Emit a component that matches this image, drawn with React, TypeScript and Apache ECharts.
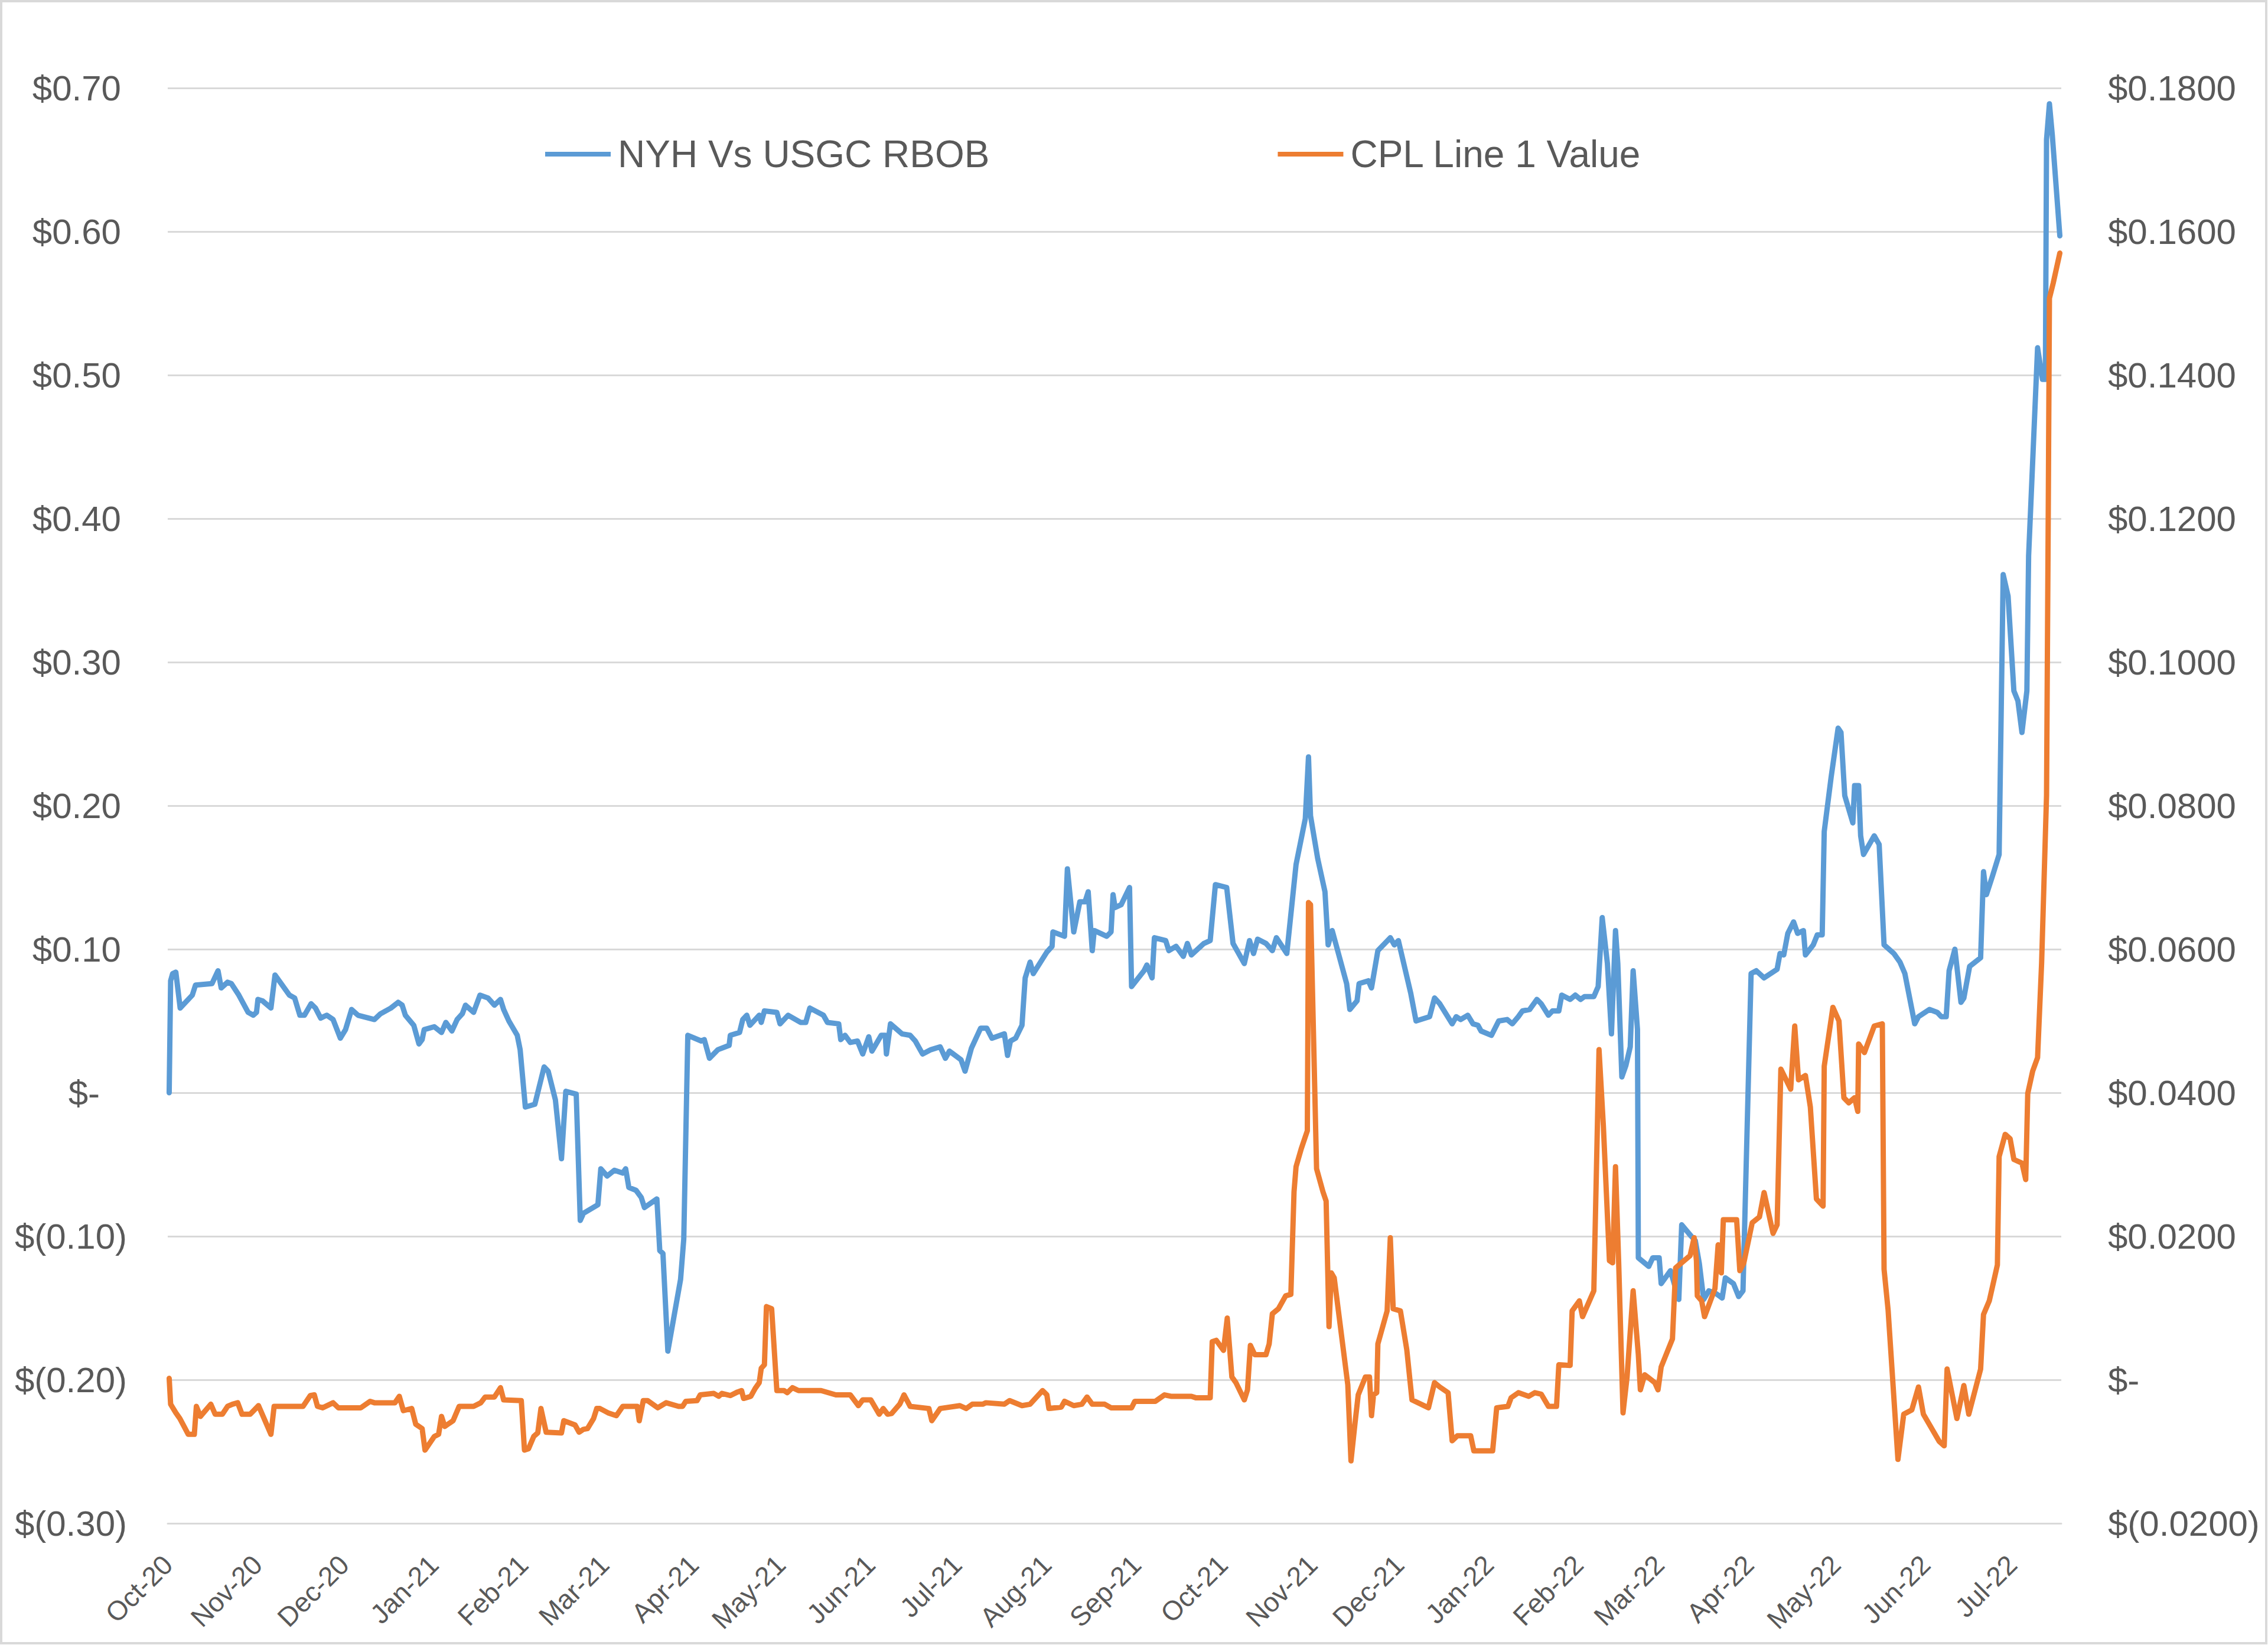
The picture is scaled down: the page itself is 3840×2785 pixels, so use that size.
import React, { useEffect, useRef } from "react";
import * as echarts from "echarts";

// Day offsets are counted from 1 Oct 2020 (the first date on the axis).
const AXIS_START = Date.UTC(2020, 9, 1);
const AXIS_END_DAY = 655;

const MONTH_LABELS = [
  "Oct-20", "Nov-20", "Dec-20", "Jan-21", "Feb-21", "Mar-21", "Apr-21", "May-21",
  "Jun-21", "Jul-21", "Aug-21", "Sep-21", "Oct-21", "Nov-21", "Dec-21", "Jan-22",
  "Feb-22", "Mar-22", "Apr-22", "May-22", "Jun-22", "Jul-22",
];

const SERIES_NAMES = ["NYH Vs USGC RBOB", "CPL Line 1 Value"];

// NYH Vs USGC RBOB spread ($/gal), [day offset, value]
const NYH_VS_USGC: [number, number][] = [
  [0.5,0.000],[1.0,0.078],[1.7,0.083],[2.8,0.084],[4.3,0.059],[8.5,0.068],[9.6,0.075],[15.3,0.076],[17.4,0.085],[18.5,0.073],
  [20.7,0.077],[22.0,0.076],[24.6,0.068],[27.8,0.056],[29.6,0.054],[30.7,0.056],[31.2,0.065],[32.8,0.064],[35.7,0.059],[37.1,0.082],
  [42.1,0.068],[43.9,0.066],[45.7,0.054],[47.3,0.054],[49.6,0.062],[51.1,0.059],[52.9,0.052],[55.0,0.054],[57.2,0.051],[59.7,0.038],
  [61.5,0.044],[63.6,0.058],[65.8,0.054],[71.5,0.051],[73.6,0.055],[77.2,0.059],[79.7,0.063],[81.1,0.061],[82.2,0.054],[85.1,0.047],
  [86.9,0.034],[88.0,0.037],[88.7,0.044],[92.2,0.046],[94.7,0.042],[96.2,0.049],[98.3,0.043],[100.1,0.051],[101.9,0.055],[103.0,0.061],
  [105.8,0.056],[108.0,0.068],[110.8,0.066],[113.0,0.061],[115.1,0.065],[116.2,0.058],[118.0,0.050],[120.9,0.040],[121.9,0.030],[123.7,-0.010],
  [127.0,-0.008],[130.2,0.018],[131.6,0.015],[134.1,-0.005],[136.2,-0.046],[137.7,0.001],[141.3,-0.001],[142.7,-0.089],[143.8,-0.084],[148.8,-0.078],
  [149.8,-0.053],[152.0,-0.058],[154.5,-0.054],[157.4,-0.056],[158.4,-0.053],[159.5,-0.066],[162.0,-0.068],[163.8,-0.073],[164.9,-0.080],[169.2,-0.074],
  [170.2,-0.110],[171.3,-0.112],[173.0,-0.180],[177.4,-0.130],[178.5,-0.102],[179.9,0.040],[184.6,0.036],[185.6,0.037],[187.4,0.024],[190.3,0.030],
  [194.2,0.033],[194.6,0.040],[197.8,0.042],[198.9,0.051],[200.3,0.054],[201.4,0.047],[204.6,0.054],[205.3,0.049],[206.4,0.057],[210.7,0.056],
  [211.8,0.048],[214.6,0.054],[218.9,0.049],[220.7,0.049],[222.1,0.059],[226.8,0.054],[228.2,0.049],[232.1,0.048],[232.8,0.037],[234.3,0.040],
  [236.1,0.035],[238.6,0.036],[240.4,0.027],[242.5,0.039],[243.6,0.029],[246.8,0.040],[248.2,0.040],[248.6,0.027],[250.0,0.048],[254.0,0.041],
  [256.8,0.040],[258.6,0.036],[261.1,0.027],[264.0,0.030],[267.2,0.032],[269.0,0.024],[270.4,0.029],[274.4,0.023],[275.8,0.015],[278.0,0.031],
  [281.2,0.045],[283.3,0.045],[285.1,0.038],[289.4,0.041],[290.5,0.026],[291.5,0.036],[293.3,0.038],[295.5,0.047],[296.6,0.080],[298.3,0.091],
  [299.4,0.083],[304.1,0.098],[305.9,0.102],[306.2,0.112],[310.2,0.109],[311.2,0.156],[313.4,0.112],[315.5,0.133],[317.3,0.133],[318.4,0.140],
  [319.8,0.099],[320.5,0.113],[324.8,0.109],[326.3,0.112],[327.0,0.138],[327.7,0.129],[329.8,0.131],[332.7,0.143],[333.4,0.074],[337.7,0.085],
  [338.7,0.089],[340.5,0.080],[341.3,0.108],[345.2,0.106],[346.3,0.099],[348.8,0.102],[351.3,0.095],[352.7,0.104],[354.1,0.096],[358.4,0.104],
  [360.6,0.106],[362.4,0.145],[366.3,0.143],[368.5,0.104],[372.4,0.090],[374.2,0.106],[375.6,0.097],[377.0,0.107],[379.9,0.104],[382.1,0.099],
  [383.5,0.108],[387.1,0.097],[390.3,0.159],[393.5,0.191],[394.6,0.234],[395.3,0.193],[397.8,0.163],[400.3,0.140],[401.4,0.103],[402.8,0.113],
  [407.8,0.076],[408.9,0.058],[411.4,0.064],[412.1,0.076],[415.3,0.078],[416.4,0.073],[418.6,0.099],[422.9,0.108],[424.3,0.103],[425.7,0.106],
  [430.0,0.069],[431.8,0.050],[436.5,0.053],[438.2,0.066],[440.0,0.062],[444.3,0.048],[445.7,0.053],[447.2,0.051],[449.7,0.054],[451.5,0.048],
  [453.2,0.047],[454.3,0.043],[457.9,0.040],[460.4,0.050],[463.3,0.051],[465.1,0.048],[467.2,0.053],[468.6,0.057],[471.1,0.058],[473.6,0.065],
  [475.1,0.062],[477.6,0.054],[479.0,0.057],[481.2,0.057],[482.2,0.068],[485.1,0.065],[486.9,0.068],[488.7,0.065],[490.1,0.067],[493.3,0.067],
  [494.8,0.074],[496.2,0.122],[498.0,0.090],[499.4,0.041],[500.8,0.113],[501.6,0.090],[503.0,0.011],[504.4,0.019],[505.9,0.032],[506.9,0.085],
  [508.4,0.044],[508.7,-0.115],[512.3,-0.121],[513.7,-0.115],[515.9,-0.115],[516.6,-0.133],[519.8,-0.124],[522.7,-0.144],[523.7,-0.092],[527.0,-0.100],
  [528.4,-0.103],[529.8,-0.119],[531.3,-0.144],[533.1,-0.138],[535.6,-0.140],[537.7,-0.143],[538.8,-0.129],[541.6,-0.133],[543.4,-0.142],[544.9,-0.138],
  [547.7,0.083],[549.5,0.085],[552.2,0.080],[556.7,0.086],[557.7,0.097],[559.0,0.096],[560.4,0.111],[562.4,0.119],[563.8,0.111],[565.8,0.113],
  [566.5,0.096],[569.2,0.103],[570.6,0.110],[572.3,0.110],[573.0,0.182],[575.4,0.220],[577.8,0.254],[578.8,0.251],[580.1,0.207],[582.9,0.188],
  [583.5,0.214],[584.9,0.214],[585.6,0.179],[586.6,0.166],[590.3,0.179],[592.0,0.173],[593.7,0.103],[597.1,0.097],[599.2,0.091],[600.9,0.083],
  [604.3,0.048],[605.6,0.053],[609.4,0.058],[612.1,0.056],[613.5,0.053],[615.2,0.053],[616.2,0.085],[618.2,0.100],[620.3,0.063],[621.3,0.066],
  [623.3,0.088],[627.1,0.094],[628.1,0.154],[629.1,0.138],[631.2,0.151],[633.5,0.166],[634.9,0.361],[636.6,0.346],[638.6,0.280],[640.0,0.273],
  [641.4,0.251],[643.1,0.280],[643.7,0.374],[646.8,0.519],[648.5,0.497],[649.5,0.497],[649.9,0.664],[650.9,0.689],[651.9,0.667],[654.5,0.597],
];

// CPL Line 1 Value ($/gal), [day offset, value]
const CPL_LINE1: [number, number][] = [
  [0.5,0.0002],[1.0,-0.0034],[2.8,-0.0046],[4.2,-0.0054],[7.1,-0.0076],[9.2,-0.0076],[9.9,-0.0037],[11.3,-0.0051],[14.9,-0.0034],[16.4,-0.0048],
  [18.9,-0.0048],[20.7,-0.0037],[22.4,-0.0034],[24.2,-0.0032],[25.7,-0.0048],[28.5,-0.0048],[31.4,-0.0036],[35.7,-0.0076],[36.8,-0.0037],[46.8,-0.0037],
  [49.3,-0.0022],[50.7,-0.0021],[51.8,-0.0037],[53.6,-0.0039],[57.2,-0.0032],[59.0,-0.0039],[66.8,-0.0039],[70.0,-0.0030],[71.5,-0.0032],[78.6,-0.0032],
  [80.1,-0.0023],[81.5,-0.0043],[84.4,-0.0040],[85.8,-0.0062],[88.0,-0.0068],[89.0,-0.0098],[92.2,-0.0079],[93.7,-0.0076],[94.7,-0.0051],[95.8,-0.0065],
  [98.7,-0.0057],[100.8,-0.0037],[105.8,-0.0037],[108.3,-0.0032],[109.8,-0.0024],[113.0,-0.0024],[115.1,-0.0011],[116.2,-0.0028],[122.3,-0.0029],[123.4,-0.0098],
  [124.8,-0.0096],[126.6,-0.0079],[128.0,-0.0074],[129.1,-0.0040],[130.9,-0.0073],[136.2,-0.0074],[137.0,-0.0057],[140.9,-0.0063],[142.3,-0.0073],[143.8,-0.0069],
  [145.2,-0.0068],[147.3,-0.0054],[148.4,-0.0040],[149.5,-0.0040],[152.3,-0.0046],[155.2,-0.0050],[157.4,-0.0037],[162.4,-0.0037],[163.1,-0.0057],[164.5,-0.0029],
  [166.0,-0.0029],[169.5,-0.0039],[172.4,-0.0032],[176.7,-0.0037],[178.1,-0.0037],[179.2,-0.0030],[183.1,-0.0029],[184.2,-0.0021],[188.9,-0.0019],[190.6,-0.0023],
  [191.7,-0.0019],[194.6,-0.0022],[197.1,-0.0017],[198.5,-0.0015],[199.2,-0.0026],[201.7,-0.0023],[203.2,-0.0012],[204.6,-0.0004],[205.3,0.0016],[206.4,0.0021],
  [207.1,0.0102],[208.9,0.0099],[210.7,-0.0015],[213.2,-0.0015],[214.3,-0.0018],[216.1,-0.0011],[218.2,-0.0015],[221.6,-0.0015],[226.0,-0.0015],[231.1,-0.0021],
  [236.1,-0.0021],[238.9,-0.0036],[240.4,-0.0028],[243.2,-0.0028],[246.1,-0.0048],[247.5,-0.0040],[249.0,-0.0048],[250.4,-0.0047],[253.2,-0.0034],[254.7,-0.0021],
  [256.8,-0.0037],[263.3,-0.0040],[264.3,-0.0057],[267.2,-0.0040],[274.0,-0.0036],[276.2,-0.0040],[278.3,-0.0034],[281.9,-0.0034],[283.0,-0.0032],[289.4,-0.0034],
  [291.2,-0.0029],[295.5,-0.0036],[298.3,-0.0034],[302.6,-0.0015],[304.1,-0.0021],[304.8,-0.0040],[309.1,-0.0038],[310.2,-0.0030],[313.4,-0.0036],[316.2,-0.0034],
  [318.0,-0.0024],[319.8,-0.0034],[324.1,-0.0034],[326.3,-0.0039],[333.4,-0.0039],[334.5,-0.0030],[341.6,-0.0030],[344.8,-0.0021],[347.0,-0.0023],[354.1,-0.0023],
  [355.6,-0.0025],[360.6,-0.0025],[361.3,0.0053],[362.7,0.0055],[365.2,0.0041],[366.5,0.0086],[368.1,0.0004],[369.5,-0.0004],[372.4,-0.0028],[373.5,-0.0014],
  [374.5,0.0048],[376.0,0.0035],[379.9,0.0035],[381.0,0.0050],[382.1,0.0092],[384.2,0.0099],[386.7,0.0117],[388.5,0.0119],[389.6,0.0262],[390.3,0.0297],
  [392.1,0.0322],[394.2,0.0347],[394.6,0.0665],[395.3,0.0662],[397.4,0.0294],[399.6,0.0262],[400.7,0.0249],[401.7,0.0074],[402.5,0.0149],[403.5,0.0142],
  [408.2,-0.0007],[409.3,-0.0113],[410.7,-0.0060],[411.8,-0.0021],[414.3,0.0004],[415.7,0.0004],[416.4,-0.0050],[417.1,-0.0021],[418.2,-0.0018],[418.6,0.0050],
  [421.8,0.0096],[422.9,0.0198],[423.9,0.0099],[426.4,0.0096],[428.6,0.0042],[430.4,-0.0028],[436.1,-0.0039],[438.2,-0.0004],[440.0,-0.0010],[442.9,-0.0018],
  [444.3,-0.0085],[446.1,-0.0078],[450.7,-0.0078],[451.8,-0.0099],[458.3,-0.0099],[459.7,-0.0039],[463.6,-0.0037],[464.7,-0.0025],[467.2,-0.0018],[470.8,-0.0023],
  [472.9,-0.0018],[475.1,-0.0020],[477.6,-0.0037],[480.4,-0.0037],[481.2,0.0021],[485.1,0.0020],[485.8,0.0096],[488.3,0.0110],[489.4,0.0088],[493.3,0.0124],
  [495.1,0.0460],[496.6,0.0354],[498.7,0.0166],[499.8,0.0163],[500.8,0.0297],[501.9,0.0163],[503.4,-0.0046],[504.8,0.0004],[506.9,0.0124],[508.7,0.0035],
  [509.4,-0.0014],[510.9,0.0007],[514.4,-0.0004],[515.5,-0.0014],[516.6,0.0018],[520.5,0.0057],[521.6,0.0156],[526.6,0.0173],[528.0,0.0198],[528.8,0.0166],
  [529.1,0.0117],[530.6,0.0110],[531.6,0.0088],[535.2,0.0127],[536.3,0.0188],[537.4,0.0149],[538.1,0.0223],[542.7,0.0223],[543.8,0.0152],[545.2,0.0163],
  [548.1,0.0219],[550.6,0.0227],[552.2,0.0261],[555.3,0.0204],[556.7,0.0216],[558.0,0.0433],[561.4,0.0405],[562.8,0.0493],[564.1,0.0418],[566.5,0.0424],
  [568.2,0.0380],[570.3,0.0252],[572.6,0.0242],[573.0,0.0437],[576.0,0.0519],[578.1,0.0500],[579.8,0.0393],[581.5,0.0386],[583.5,0.0393],[584.6,0.0374],
  [584.9,0.0468],[586.9,0.0456],[590.3,0.0493],[593.1,0.0496],[593.7,0.0154],[595.1,0.0097],[598.5,-0.0111],[600.5,-0.0048],[603.3,-0.0042],[605.6,-0.0010],
  [607.3,-0.0048],[612.8,-0.0086],[614.5,-0.0092],[615.5,0.0015],[618.9,-0.0054],[621.3,-0.0008],[623.0,-0.0048],[627.1,0.0015],[628.1,0.0091],[630.1,0.0110],
  [632.9,0.0160],[633.5,0.0311],[635.6,0.0342],[637.3,0.0336],[638.6,0.0307],[641.4,0.0302],[642.7,0.0279],[643.4,0.0399],[645.1,0.0430],[646.8,0.0449],
  [648.2,0.0581],[649.9,0.0814],[650.5,0.1211],[650.9,0.1507],[652.2,0.1528],[654.5,0.1570],
];

const COLORS = ["#5B9BD5", "#ED7D31"];
const FONT = "'Liberation Sans', Arial, sans-serif";
const TEXT_COLOR = "#595959";
const GRID_COLOR = "#D9D9D9";

// month-start positions (days since the axis start) for the tick labels
const MONTH_DAYS = MONTH_LABELS.map(
  (_, i) => Math.round((Date.UTC(2020, 9 + i, 1) - AXIS_START) / 86400000)
);

function leftLabel(v: number): string {
  const r = Math.round(v * 100) / 100;
  if (Math.abs(r) < 1e-9) return "{z|$-}";
  if (r < 0) return "$(" + (-r).toFixed(2) + ")";
  return "{p|$" + r.toFixed(2) + "}";
}

function rightLabel(v: number): string {
  const r = Math.round(v * 10000) / 10000;
  if (Math.abs(r) < 1e-9) return "$-";
  if (r < 0) return "$(" + (-r).toFixed(4) + ")";
  return "$" + r.toFixed(4);
}

export default function App() {
  const ref = useRef<HTMLDivElement>(null);

  useEffect(() => {
    if (!ref.current) return;
    const chart = echarts.init(ref.current, null, { renderer: "svg" });
    const labelFont = { fontFamily: FONT, fontSize: 60, color: TEXT_COLOR };

    chart.setOption({
      animation: false,
      backgroundColor: "#ffffff",
      graphic: [
        {
          type: "rect",
          shape: { x: 2, y: 2, width: 3835, height: 2780 },
          style: { fill: "none", stroke: GRID_COLOR, lineWidth: 4 },
          silent: true,
        },
      ],
      legend: {
        data: SERIES_NAMES,
        left: 918,
        top: 224,
        icon: "rect",
        itemWidth: 111,
        itemHeight: 8,
        itemGap: 488,
        textStyle: { fontFamily: FONT, fontSize: 64, color: TEXT_COLOR, padding: [0, 0, 0, 7] },
        selectedMode: false,
      },
      grid: {
        left: 284,
        right: 350,
        top: 149,
        bottom: 206,
        containLabel: false,
        outerBoundsMode: "none",
      },
      xAxis: {
        type: "value",
        min: 0,
        max: AXIS_END_DAY,
        splitLine: { show: false },
        axisTick: { show: false },
        axisLine: { show: true, onZero: false, lineStyle: { color: GRID_COLOR, width: 3 } },
        axisLabel: {
          fontFamily: FONT,
          fontSize: 46,
          color: TEXT_COLOR,
          customValues: MONTH_DAYS,
          rotate: 45,
          margin: 62,
          hideOverlap: false,
          formatter: (v: number) => {
            const i = MONTH_DAYS.indexOf(Math.round(v));
            return i >= 0 ? MONTH_LABELS[i] : "";
          },
        },
      },
      yAxis: [
        {
          type: "value",
          min: -0.3,
          max: 0.7,
          interval: 0.1,
          axisLine: { show: false },
          axisTick: { show: false },
          splitLine: { show: true, lineStyle: { color: GRID_COLOR, width: 3 } },
          axisLabel: {
            ...labelFont,
            margin: 69,
            formatter: leftLabel,
            rich: {
              p: { ...labelFont, padding: [0, 10, 0, 0] },
              z: { ...labelFont, padding: [0, 46, 0, 0] },
            },
          },
        },
        {
          type: "value",
          min: -0.02,
          max: 0.18,
          interval: 0.02,
          position: "right",
          axisLine: { show: false },
          axisTick: { show: false },
          splitLine: { show: false },
          axisLabel: { ...labelFont, margin: 79, formatter: rightLabel },
        },
      ],
      series: [
        {
          name: SERIES_NAMES[0],
          type: "line",
          yAxisIndex: 0,
          data: NYH_VS_USGC,
          showSymbol: false,
          symbol: "none",
          color: COLORS[0],
          itemStyle: { color: COLORS[0] },
          lineStyle: { color: COLORS[0], width: 9, cap: "round", join: "round" },
          emphasis: { disabled: true },
          silent: true,
        },
        {
          name: SERIES_NAMES[1],
          type: "line",
          yAxisIndex: 1,
          data: CPL_LINE1,
          showSymbol: false,
          symbol: "none",
          color: COLORS[1],
          itemStyle: { color: COLORS[1] },
          lineStyle: { color: COLORS[1], width: 9, cap: "round", join: "round" },
          emphasis: { disabled: true },
          silent: true,
        },
      ],
    });

    return () => chart.dispose();
  }, []);

  return (
    <div
      ref={ref}
      style={{ position: "absolute", left: 0, top: 0, width: 3840, height: 2785, background: "#ffffff" }}
    />
  );
}
